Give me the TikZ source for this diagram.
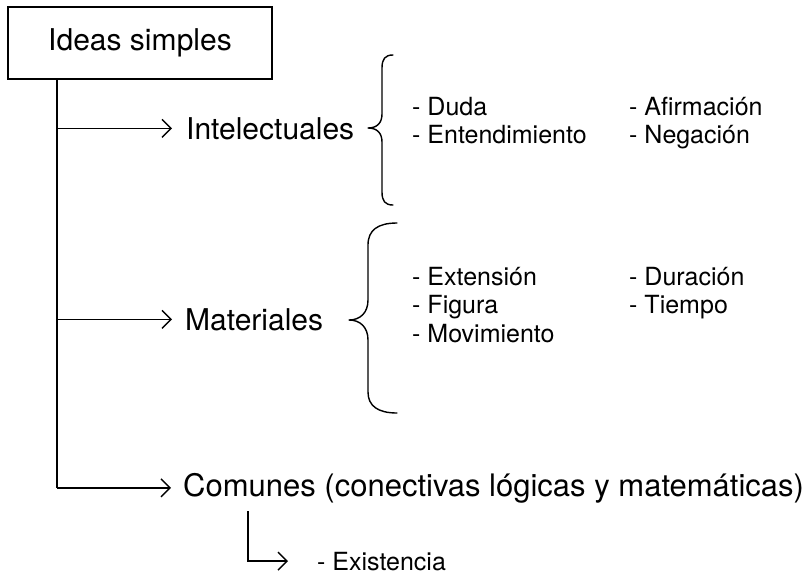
\documentclass[tikz,border=0pt]{standalone}
\usepackage{fontspec}
\setmainfont{TeX Gyre Heros}
\usetikzlibrary{arrows.meta}
\tikzset{
  big/.style={font=\fontsize{30}{36}\selectfont, inner sep=0pt, anchor=base west},
  item/.style={font=\fontsize{25}{30}\selectfont, inner sep=0pt, anchor=base west},
  arr/.style={line width=1.4pt, -{Straight Barb[length=9pt,width=18pt,line width=1.4pt]}},
  ln/.style={line width=1.4pt},
  brace/.style={line width=1.4pt, line cap=round, line join=round}
}
\begin{document}
\begin{tikzpicture}[x=1pt,y=-1pt]
\useasboundingbox (0,0) rectangle (805,574);
% root box
\node[draw, line width=1.4pt, minimum width=264pt, minimum height=72pt, inner sep=0pt,
      font=\fontsize{30}{36}\selectfont] (root) at (140,43) {Ideas simples};
\coordinate (trunk) at (57,79);
% categories
\node[big] (intel) at (186,139) {Intelectuales};
\node[big] (mat) at (185,330) {Materiales};
\node[big, font=\fontsize{31}{36}\selectfont] (com) at (183,496) {Comunes (conectivas lógicas y matemáticas)};
% trunk and arrows
\draw[ln] (trunk) -- (trunk |- com.west);
\draw[arr] (trunk |- intel.west) -- ([xshift=-14pt]intel.west);
\draw[arr] (trunk |- mat.west) -- ([xshift=-13pt]mat.west);
\draw[arr] (trunk |- com.west) -- ([xshift=-12pt]com.west);
% brace 1
\draw[brace] (393,55) .. controls (385,55) and (382,59) .. (382,68) -- (382,114)
  .. controls (382,123) and (377,128) .. (368,128)
  .. controls (377,128) and (382,133) .. (382,142) -- (382,192)
  .. controls (382,201) and (385,205) .. (393,205);
% brace 2
\draw[brace] (397,223) .. controls (378,223) and (368,230) .. (368,245) -- (368,300)
  .. controls (368,313) and (360,320) .. (349,320)
  .. controls (360,320) and (368,327) .. (368,340) -- (368,392)
  .. controls (368,406) and (378,413) .. (397,413);
% intellectual items
\node[item] (duda) at (412,115) {- Duda};
\node[item] (ent) at (412,143) {- Entendimiento};
\node[item] (afi) at (629,115) {- Afirmación};
\node[item] (neg) at (629,143) {- Negación};
% material items
\node[item] (ext) at (412,285) {- Extensión};
\node[item] (fig) at (412,313) {- Figura};
\node[item] (mov) at (412,342) {- Movimiento};
\node[item] (dur) at (629,285) {- Duración};
\node[item] (tie) at (629,313) {- Tiempo};
% existencia
\node[item] (exist) at (317,570) {- Existencia};
\coordinate (sub) at (248,511);
\draw[arr] (sub) |- ([xshift=-29pt]exist.west);
\end{tikzpicture}
\end{document}
